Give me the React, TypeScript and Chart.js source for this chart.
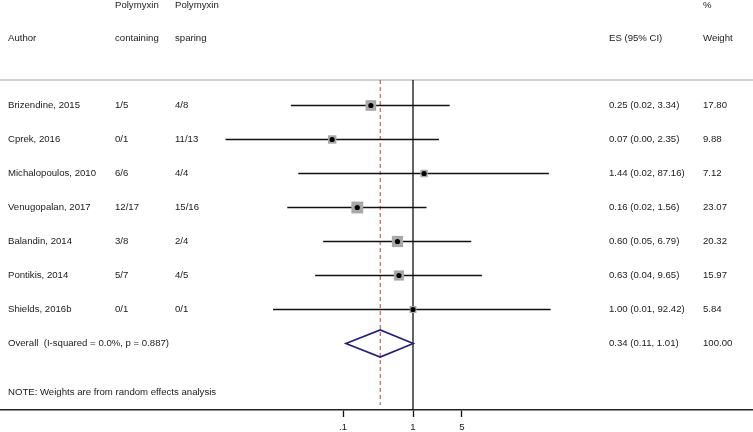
import React, { useEffect, useRef } from "react";
import { Chart, registerables } from "chart.js";

Chart.register(...registerables);

// ---- data ----
const authors = [
  "Brizendine, 2015",
  "Cprek, 2016",
  "Michalopoulos, 2010",
  "Venugopalan, 2017",
  "Balandin, 2014",
  "Pontikis, 2014",
  "Shields, 2016b",
];
const containing = ["1/5", "0/1", "6/6", "12/17", "3/8", "5/7", "0/1"];
const sparing = ["4/8", "11/13", "4/4", "15/16", "2/4", "4/5", "0/1"];
const es = [0.25, 0.07, 1.44, 0.16, 0.6, 0.63, 1.0];
const lower = [0.018, 0.0021, 0.023, 0.016, 0.052, 0.04, 0.01];
const upper = [3.34, 2.35, 87.16, 1.56, 6.79, 9.65, 92.42];
const weights = [17.8, 9.88, 7.12, 23.07, 20.32, 15.97, 5.84];

const overallLabel = "Overall  (I-squared = 0.0%, p = 0.887)";
const overallES = 0.34;
const overallLower = 0.11;
const overallUpper = 1.01;
const overallWeight = 100.0;

const tickValues = [0.1, 1, 5];
const tickLabels = [".1", "1", "5"];

const headerTop = ["", "Polymyxin", "Polymyxin", "", "%"];
const headerBottom = ["Author", "containing", "sparing", "ES (95% CI)", "Weight"];
const noteText = "NOTE: Weights are from random effects analysis";

// ---- layout ----
const W = 753;
const H = 432;
const colX = [8, 115, 175, 609, 703];
const headerTopRow = -2.956;
const headerBottomRow = -1.985;
const noteRow = 8.43;
const FONT = '9.6px "Liberation Sans", Arial, sans-serif';

const fmt = (v: number) => v.toFixed(2);
const boxSide = (w: number) => 2 + 2.05 * Math.sqrt(w);

const forestPlugin = {
  id: "forest",
  beforeDatasetsDraw(chart: any) {
    const { ctx, chartArea } = chart;
    const xs = chart.scales.x;
    const ys = chart.scales.y;
    ctx.save();
    // top separator
    ctx.strokeStyle = "#d0d0d0";
    ctx.lineWidth = 2;
    ctx.beginPath();
    ctx.moveTo(0, chartArea.top);
    ctx.lineTo(chart.width, chartArea.top);
    ctx.stroke();

    // null line
    const x1 = xs.getPixelForValue(1);
    ctx.strokeStyle = "#111";
    ctx.lineWidth = 1.3;
    ctx.beginPath();
    ctx.moveTo(x1, chartArea.top);
    ctx.lineTo(x1, chartArea.bottom);
    ctx.stroke();

    // overall dashed line
    const xo = xs.getPixelForValue(overallES);
    ctx.strokeStyle = "#9c4b4b";
    ctx.lineWidth = 1;
    ctx.setLineDash([4, 3]);
    ctx.beginPath();
    ctx.moveTo(xo, chartArea.top);
    ctx.lineTo(xo, chartArea.bottom - 5);
    ctx.stroke();
    ctx.setLineDash([]);

    // CI lines
    ctx.strokeStyle = "#111";
    ctx.lineWidth = 1.6;
    for (let i = 0; i < es.length; i++) {
      const yy = ys.getPixelForValue(i);
      ctx.beginPath();
      ctx.moveTo(xs.getPixelForValue(lower[i]), yy);
      ctx.lineTo(xs.getPixelForValue(upper[i]), yy);
      ctx.stroke();
    }

    // diamond
    const oi = es.length;
    const yc = ys.getPixelForValue(oi);
    const yt = ys.getPixelForValue(oi - 0.4);
    const yb = ys.getPixelForValue(oi + 0.4);
    ctx.strokeStyle = "#231f78";
    ctx.lineWidth = 1.6;
    ctx.beginPath();
    ctx.moveTo(xs.getPixelForValue(overallLower), yc);
    ctx.lineTo(xo, yt);
    ctx.lineTo(xs.getPixelForValue(overallUpper), yc);
    ctx.lineTo(xo, yb);
    ctx.closePath();
    ctx.stroke();
    ctx.restore();
  },
  afterDraw(chart: any) {
    const { ctx } = chart;
    const ys = chart.scales.y;
    ctx.save();
    ctx.font = FONT;
    ctx.fillStyle = "#1a1a1a";
    ctx.textBaseline = "middle";
    ctx.textAlign = "left";
    const yTop = ys.getPixelForValue(headerTopRow);
    const yBot = ys.getPixelForValue(headerBottomRow);
    headerTop.forEach((t, c) => t && ctx.fillText(t, colX[c], yTop));
    headerBottom.forEach((t, c) => t && ctx.fillText(t, colX[c], yBot));
    for (let i = 0; i < authors.length; i++) {
      const yy = ys.getPixelForValue(i);
      ctx.fillText(authors[i], colX[0], yy);
      ctx.fillText(containing[i], colX[1], yy);
      ctx.fillText(sparing[i], colX[2], yy);
      ctx.fillText(`${fmt(es[i])} (${fmt(lower[i])}, ${fmt(upper[i])})`, colX[3], yy);
      ctx.fillText(fmt(weights[i]), colX[4], yy);
    }
    const yo = ys.getPixelForValue(authors.length);
    ctx.fillText(overallLabel, colX[0], yo);
    ctx.fillText(`${fmt(overallES)} (${fmt(overallLower)}, ${fmt(overallUpper)})`, colX[3], yo);
    ctx.fillText(fmt(overallWeight), colX[4], yo);
    ctx.fillText(noteText, colX[0], ys.getPixelForValue(noteRow));
    ctx.restore();
  },
};

export default function App() {
  const ref = useRef<HTMLCanvasElement | null>(null);
  useEffect(() => {
    if (!ref.current) return;
    const chart = new Chart(ref.current, {
      type: "scatter",
      data: {
        datasets: [
          {
            label: "estimate",
            data: es.map((v, i) => ({ x: v, y: i })),
            pointStyle: "circle",
            pointRadius: 2.6,
            backgroundColor: "#000",
            borderWidth: 0,
            order: 1,
          },
          {
            label: "weight",
            data: es.map((v, i) => ({ x: v, y: i })),
            pointStyle: "rect",
            pointRadius: weights.map((w) => boxSide(w) / Math.SQRT2),
            backgroundColor: "#a8a8a8",
            borderWidth: 0,
            order: 2,
          },
        ],
      },
      options: {
        responsive: false,
        animation: false,
        layout: { autoPadding: false, padding: { top: 80, left: 0, right: 0, bottom: 0 } },
        plugins: { legend: { display: false }, tooltip: { enabled: false } },
        scales: {
          x: {
            type: "logarithmic",
            min: Math.pow(10, -413 / 70),
            max: Math.pow(10, 340 / 70),
            afterBuildTicks: (s: any) => {
              s.ticks = tickValues.map((v) => ({ value: v }));
            },
            afterFit: (s: any) => {
              s.height = 22;
            },
            ticks: {
              autoSkip: false,
              maxRotation: 0,
              padding: 5,
              color: "#1a1a1a",
              font: { family: '"Liberation Sans", Arial, sans-serif', size: 9.6 },
              callback: (v: any) => {
                const idx = tickValues.indexOf(Number(v));
                return idx >= 0 ? tickLabels[idx] : "";
              },
            },
            grid: {
              display: true,
              drawOnChartArea: false,
              drawTicks: true,
              tickLength: 7,
              tickColor: "#111",
              tickWidth: 1.3,
            },
            border: { display: true, color: "#222", width: 1.5 },
          },
          y: {
            type: "linear",
            display: false,
            reverse: true,
            min: -0.75,
            max: 8.956,
          },
        },
      },
      plugins: [forestPlugin],
    });
    return () => chart.destroy();
  }, []);
  return (
    <div style={{ position: "absolute", left: 0, top: 0, width: W, height: H, background: "#fff" }}>
      <canvas ref={ref} width={W} height={H} style={{ width: W, height: H, display: "block" }} />
    </div>
  );
}
